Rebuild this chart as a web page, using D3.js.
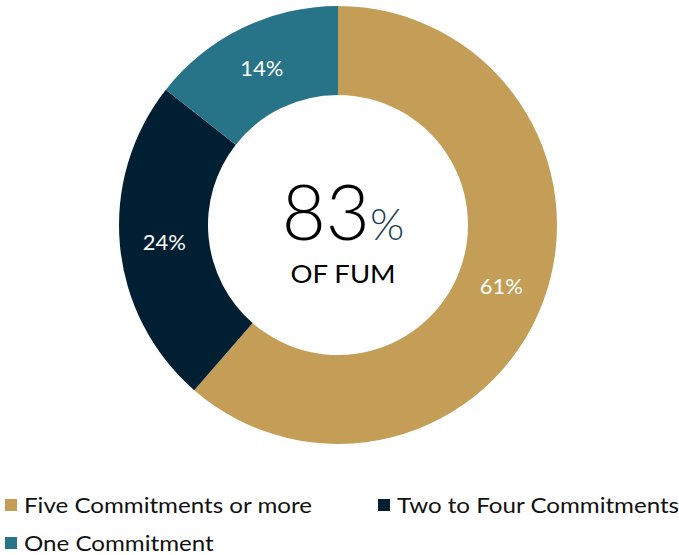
<!DOCTYPE html>
<html>
<head>
<meta charset="utf-8">
<script src="https://cdn.jsdelivr.net/npm/d3@7"></script>
<style>
  body { margin: 0; background: #fff; }
  text { font-family: Lato, "Open Sans", sans-serif; }
</style>
</head>
<body>
<svg width="679" height="555"></svg>
<script>
// Categories and their share of FUM
var categories = ["Five Commitments or more", "Two to Four Commitments", "One Commitment"];
var shares = [61.4, 24.2, 14.4];
var colors = ["#C49E56", "#001F33", "#277489"];
var centerValue = "83";
var centerLabel = "OF FUM";

var svg = d3.select("svg"),
    width = +svg.attr("width"),
    height = +svg.attr("height");

var cx = 338, cy = 225,
    outerR = 219, innerR = 130;

var color = d3.scaleOrdinal().domain(categories).range(colors);

var data = categories.map(function(c, i) { return { name: c, value: shares[i] }; });

var pie = d3.pie().sort(null).value(function(d) { return d.value; });
var arc = d3.arc().innerRadius(innerR).outerRadius(outerR);

var g = svg.append("g").attr("transform", "translate(" + cx + "," + cy + ")");

var slices = g.selectAll("g.slice")
    .data(pie(data))
    .enter().append("g")
      .attr("class", "slice");

slices.append("path")
    .attr("d", arc)
    .attr("fill", function(d) { return color(d.data.name); });

// Percent labels at the centroid of each arc
slices.append("text")
    .attr("transform", function(d) { return "translate(" + arc.centroid(d) + ")"; })
    .attr("dy", "0.37em")
    .attr("text-anchor", "middle")
    .attr("fill", "#fff")
    .attr("font-size", 22)
    .text(function(d) { return Math.round(d.data.value) + "%"; });

// Centre text
var big = g.append("text")
    .attr("text-anchor", "middle")
    .attr("x", 5)
    .attr("y", 15)
    .attr("fill", "#000");
big.append("tspan")
    .attr("font-size", 76)
    .attr("font-weight", 300)
    .text(centerValue);
big.append("tspan")
    .attr("font-size", 44)
    .attr("font-weight", 300)
    .attr("fill", "#1F3F55")
    .text("%");

g.append("text")
    .attr("text-anchor", "middle")
    .attr("transform", "translate(5,58) scale(1.1,1)")
    .attr("font-size", 25)
    .attr("fill", "#000")
    .text(centerLabel);

// Legend
var legendPos = [[5, 499], [378, 499], [5, 537]];
var legend = svg.selectAll("g.legend")
    .data(categories)
    .enter().append("g")
      .attr("class", "legend")
      .attr("transform", function(d, i) { return "translate(" + legendPos[i][0] + "," + legendPos[i][1] + ")"; });

legend.append("rect")
    .attr("width", 12)
    .attr("height", 12)
    .attr("fill", function(d) { return color(d); });

// legend text is drawn a little stretched horizontally, like the original
legend.append("text")
    .attr("transform", "translate(19,14) scale(1.15,1)")
    .attr("font-size", 21)
    .attr("fill", "#111")
    .text(function(d) { return d; });
</script>
</body>
</html>
